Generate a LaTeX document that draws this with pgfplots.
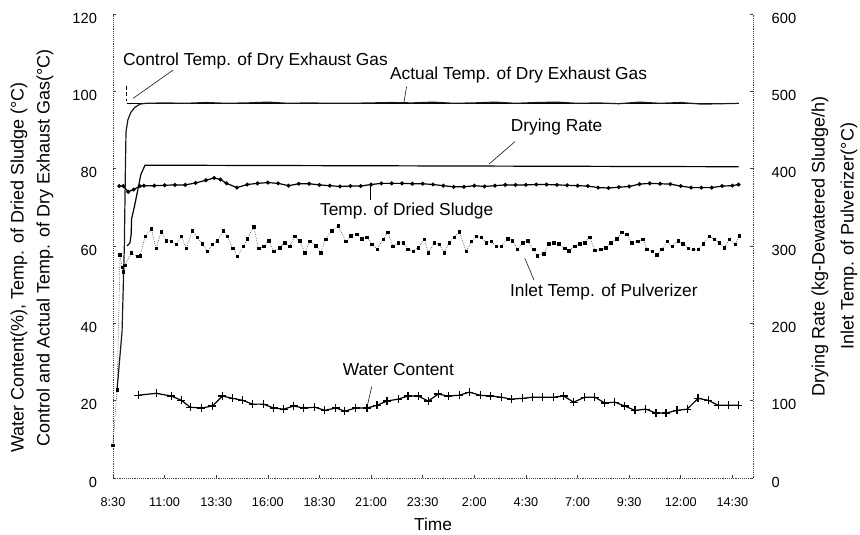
\documentclass[border=0pt]{standalone}
\usepackage{fontspec}
\setmainfont{Liberation Sans}
\usepackage{pgfplots}
\pgfplotsset{compat=1.18}

\newcommand\annot{\fontsize{13}{15}\selectfont}
\newcommand\axlab{\fontsize{13.5}{16}\selectfont}

\pgfplotsset{
  base/.style={
    scale only axis, width=480pt, height=348pt,
    xmin=0, xmax=31,
    axis line style={densely dotted, black!75, -},
    tick style={black!75, thin},
    major tick length=2pt,
    tick align=inside,
    clip=false,
    /pgf/number format/assume math mode=true,
  }
}

\begin{document}
\begin{tikzpicture}
\begin{axis}[base,
  ymin=0, ymax=120,
  axis x line*=bottom, axis y line*=left,
  xtick={0,2.5,...,30},
  xticklabels={8:30,11:00,13:30,16:00,18:30,21:00,23:30,2:00,4:30,7:00,9:30,12:00,14:30},
  ytick={0,20,...,120},
  xticklabel style={font=\fontsize{9.5}{11}\selectfont, yshift=-11.5pt},
  yticklabel style={font=\fontsize{11}{13}\selectfont, xshift=-8.5pt, yshift=-3pt},
]
\coordinate (O) at (rel axis cs:0,0);
\coordinate (T) at (rel axis cs:1,1);
\coordinate (B) at (rel axis cs:0.5,0);

% Control temp. of dry exhaust gas
\addplot[densely dashed, thin, black] coordinates {(0.63,101.5) (0.63,97.5)};
\addplot[line width=0.8pt, black] coordinates {(0.68,96.8) (30.3,96.8)};

% Actual temp. of dry exhaust gas
\addplot[line width=0.9pt, black!90] coordinates {
(0.2,23) (0.44,38) (0.55,60) (0.6,80) (0.63,89.5) (0.72,92.6) (0.87,94.6)
(1.07,95.9) (1.31,96.7) (1.6,96.9) (2.5,97.0) (3.5,96.9) (4.5,97.1) (5.5,96.9)
(6.5,97.0) (7.5,97.2) (8.5,96.9) (9.5,97.0) (10.5,96.9) (11.5,96.9) (12.5,97.0)
(13.5,97.1) (14.5,97.0) (15.5,97.2) (16.5,96.9) (17.5,97.0) (18.5,97.2) (19.5,96.9)
(20.5,97.1) (21.5,97.2) (22.5,96.9) (23.5,97.0) (24.5,96.8) (25.5,97.2) (26.5,96.9)
(27.5,97.1) (28.5,96.7) (29.5,96.8) (30.3,96.9)};

% Temp. of dried sludge
\addplot[line width=0.9pt, black, mark=*, mark size=1pt] coordinates {
(0.3,75.5) (0.5,75.5) (0.74,74.0) (1.0,74.6) (1.3,75.5) (1.5,75.6) (2.0,75.6)
(2.5,75.7) (3.0,75.8) (3.5,75.8) (4.0,76.3) (4.5,77.0) (4.9,77.6) (5.2,77.2)
(5.5,76.2) (6.0,75.1) (6.5,75.9) (7.0,76.2) (7.5,76.4) (8.0,76.2) (8.5,75.6)
(9.0,76.1) (9.5,76.1) (10.0,75.8) (10.5,75.6) (11.0,75.4) (11.5,75.5) (12.0,75.5)
(12.5,75.9) (13.0,76.2) (13.5,76.2) (14.0,76.2) (14.5,76.1) (15.0,76.1) (15.5,75.9)
(16.0,75.6) (16.5,75.3) (17.0,75.3) (17.5,75.6) (18.0,75.4) (18.5,75.6) (19.0,75.8)
(19.5,75.8) (20.0,75.8) (20.5,75.9) (21.0,75.9) (21.5,75.8) (22.0,75.7) (22.5,75.6)
(23.0,75.5) (23.5,75.1) (24.0,75.0) (24.5,75.2) (25.0,75.4) (25.5,76.0) (26.0,76.2)
(26.5,76.1) (27.0,76.0) (27.5,75.5) (28.0,75.1) (28.5,75.1) (29.0,75.1) (29.5,75.5)
(30.0,75.6) (30.3,75.9)};

% Water content
\addplot[line width=0.9pt, black, mark=+, mark size=3pt] coordinates {
(1.22,21.4) (2.09,21.9) (2.82,21.2) (3.31,20.1) (3.74,18.3) (4.28,18.1) (4.81,18.6)
(5.30,21.2) (5.79,20.6) (6.27,20.1) (6.76,19.1) (7.29,19.1) (7.78,18.1) (8.26,17.8)
(8.75,18.6) (9.24,18.1) (9.77,18.3) (10.26,17.5) (10.79,18.1) (11.23,17.3) (11.76,18.1)
(12.30,18.1) (12.79,18.8) (13.27,19.9) (13.81,20.4) (14.29,21.2) (14.78,21.2) (15.27,19.9)
(15.75,21.7) (16.24,21.2) (16.77,21.4) (17.26,22.2) (17.79,21.4) (18.28,21.2) (18.81,20.9)
(19.30,20.4) (19.84,20.6) (20.32,20.9) (20.81,20.9) (21.34,20.9) (21.83,21.2) (22.31,19.6)
(22.85,20.9) (23.34,20.9) (23.82,19.4) (24.31,19.6) (24.79,18.6) (25.28,17.5) (25.81,17.8)
(26.30,16.8) (26.79,16.8) (27.32,17.5) (27.81,17.8) (28.34,20.6) (28.83,20.1) (29.31,18.8)
(29.80,18.8) (30.29,18.8)};

% Annotations
\node[anchor=base west, inner sep=0, font=\annot] at (axis cs:0.48,106.8) {Control Temp. of Dry Exhaust Gas};
\draw[thin] (axis cs:2.91,105.5) -- (axis cs:0.98,98.2);
\node[anchor=base west, inner sep=0, font=\annot] at (axis cs:13.41,103.1) {Actual Temp. of Dry Exhaust Gas};
\draw[thin] (axis cs:14.22,101.2) -- (axis cs:14.09,97.1);
\node[anchor=base west, inner sep=0, font=\annot] at (axis cs:19.26,89.6) {Drying Rate};
\draw[thin] (axis cs:19.47,87.0) -- (axis cs:18.22,81.2);
\node[anchor=base west, inner sep=0, font=\annot] at (axis cs:10.02,68.0) {Temp. of Dried Sludge};
\draw[thin] (axis cs:12.48,71.9) -- (axis cs:12.48,76.2);
\node[anchor=base west, inner sep=0, font=\annot] at (axis cs:19.22,46.9) {Inlet Temp. of Pulverizer};
\draw[thin] (axis cs:20.39,51.2) -- (axis cs:19.95,56.8);
\node[anchor=base west, inner sep=0, font=\annot] at (axis cs:11.12,26.45) {Water Content};
\draw[thin] (axis cs:12.53,23.6) -- (axis cs:12.33,18.9);
\end{axis}

\begin{axis}[base,
  ymin=0, ymax=600,
  axis x line=none, axis y line*=right,
  ytick={0,100,...,600},
  yticklabel style={font=\fontsize{11}{13}\selectfont, xshift=10.5pt, yshift=-3pt},
]
% Drying rate
\addplot[line width=0.9pt, black] coordinates {
(0.68,300) (0.82,304) (0.88,315) (0.9,335) (1.05,352.5) (1.2,372.5) (1.35,392.5)
(1.55,404.5) (30.3,402.5)};

% Inlet temp. of pulverizer
\addplot[densely dotted, thin, black, mark=square*, mark size=0.95pt, mark options={solid}] coordinates {
(0.0,42.5) (0.2,114) (0.34,289) (0.44,272.5) (0.49,267) (0.58,275) (0.88,291.5)
(1.17,286.5) (1.31,287.5) (1.56,312.5) (1.85,322.5) (2.09,297) (2.33,318.5) (2.58,307)
(2.82,306) (3.06,302) (3.31,312.5) (3.55,297) (3.84,320) (4.08,311) (4.33,303)
(4.57,293) (4.81,302) (5.06,307) (5.35,320) (5.54,312.5) (5.79,297) (6.03,286.5)
(6.32,299.5) (6.51,309.5) (6.81,325) (7.05,297) (7.29,299.5) (7.54,307) (7.78,293)
(8.07,298) (8.31,304.5) (8.56,299.5) (8.80,312.5) (9.04,307) (9.29,291.5) (9.53,306)
(9.82,300.5) (10.06,291.5) (10.30,308.5) (10.6,320) (10.9,326) (11.28,306) (11.52,313.5)
(11.81,315) (12.06,309.5) (12.30,311) (12.54,302.5) (12.79,295.5) (13.08,308.5) (13.32,317.5)
(13.56,299.5) (13.81,304.5) (14.05,304.5) (14.29,295.5) (14.54,293) (14.78,298) (15.07,308.5)
(15.27,291.5) (15.56,304.5) (15.80,302) (16.04,291.5) (16.29,304.5) (16.53,311) (16.77,318.5)
(17.11,293) (17.36,306) (17.60,312.5) (17.84,311) (18.08,304.5) (18.33,306) (18.57,299.5)
(18.81,299.5) (19.11,309.5) (19.35,307) (19.59,295.5) (19.84,304.5) (20.08,307) (20.37,295.5)
(20.56,287.5) (20.86,290) (21.10,303) (21.34,304.5) (21.59,303) (21.88,297) (22.07,294)
(22.36,299.5) (22.61,303) (22.85,304.5) (23.09,311) (23.34,294.5) (23.63,295.5) (23.87,298)
(24.11,304.5) (24.40,309.5) (24.65,317.5) (24.89,315) (25.13,304.5) (25.43,306) (25.67,308.5)
(25.86,295.5) (26.11,293) (26.35,289) (26.59,295.5) (26.84,306) (27.08,299.5) (27.37,307)
(27.61,303) (27.86,297) (28.10,295.5) (28.34,295.5) (28.59,303) (28.88,312.5) (29.12,308.5)
(29.36,304.5) (29.61,298) (29.85,308.5) (30.14,302) (30.33,313.5)};
\end{axis}

% Axis titles
\node[rotate=90, anchor=west, inner sep=0, font=\axlab] at ([shift={(-70.5pt,18.75pt)}]O) {Water Content(\%), Temp. of Dried Sludge (°C)};
\node[rotate=90, anchor=west, inner sep=0, font=\axlab] at ([shift={(-51pt,23.25pt)}]O) {Control and Actual Temp. of Dry Exhaust Gas(°C)};
\node[rotate=90, anchor=west, inner sep=0, font=\axlab] at ([shift={(530.25pt,60.75pt)}]O) {Drying Rate (kg-Dewatered Sludge/h)};
\node[rotate=90, anchor=west, inner sep=0, font=\axlab] at ([shift={(552pt,96pt)}]O) {Inlet Temp. of Pulverizer(°C)};
\node[anchor=north, inner sep=0, font=\fontsize{13}{15}\selectfont] at ([yshift=-30pt]B) {Time};

\pgfresetboundingbox
\path ([shift={(-84.75pt,-42.75pt)}]O) rectangle ([shift={(80.25pt,10.5pt)}]T);
\end{tikzpicture}
\end{document}
